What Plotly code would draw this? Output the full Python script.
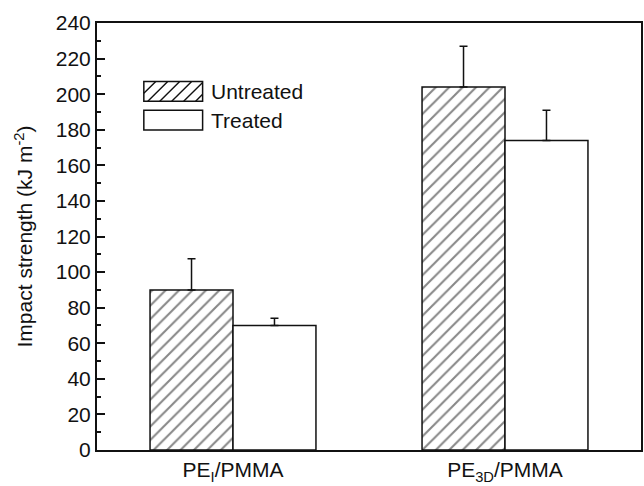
import plotly.graph_objects as go

categories = ["PE<sub>I</sub>/PMMA", "PE<sub>3D</sub>/PMMA"]
untreated = [90, 204]
untreated_err = [17.5, 23]
treated = [70, 174]
treated_err = [4, 17]
y_ticks = list(range(0, 241, 20))

W, H = 644, 486
L, R, T, B = 97, 1, 23, 32
PW, PH = W - L - R, H - T - B
FS = 21
INK = "#111111"

def px(x):
    return (x - L) / PW

def py(y):
    return (H - B - y) / PH

fig = go.Figure()
fig.add_trace(go.Bar(
    x=categories, y=untreated, name="Untreated", showlegend=False,
    marker=dict(color="white", line=dict(color=INK, width=1.5),
                pattern=dict(shape="/", size=9.5, solidity=0.22, fgcolor=INK, bgcolor="white")),
    error_y=dict(type="data", symmetric=False, array=untreated_err, arrayminus=[0, 0],
                 color=INK, thickness=1.5, width=4),
))
fig.add_trace(go.Bar(
    x=categories, y=treated, name="Treated", showlegend=False,
    marker=dict(color="white", line=dict(color=INK, width=1.5)),
    error_y=dict(type="data", symmetric=False, array=treated_err, arrayminus=[0, 0],
                 color=INK, thickness=1.5, width=4),
))

# custom legend
shapes = []
x0, x1 = 144, 203
for (y0, y1) in [(82, 102), (111, 131)]:
    shapes.append(dict(type="rect", xref="paper", yref="paper",
                       x0=px(x0), x1=px(x1), y0=py(y1), y1=py(y0),
                       line=dict(color=INK, width=1.5), fillcolor="white"))
y0, y1 = 82, 102
h = y1 - y0
path = ""
start = x0 - h
while start < x1:
    ax, ay = start, y1
    bx, by = start + h, y0
    if ax < x0:
        ay = ay - (x0 - ax)
        ax = x0
    if bx > x1:
        by = by + (bx - x1)
        bx = x1
    if bx > ax:
        path += f"M{px(ax)},{py(ay)} L{px(bx)},{py(by)} "
    start += 12
shapes.append(dict(type="path", xref="paper", yref="paper", path=path,
                   line=dict(color=INK, width=1.4)))

annotations = [
    dict(text="Untreated", x=px(209), y=py(92), xref="paper", yref="paper",
         xanchor="left", yanchor="middle", showarrow=False,
         font=dict(size=FS, color=INK)),
    dict(text="Treated", x=px(209), y=py(121), xref="paper", yref="paper",
         xanchor="left", yanchor="middle", showarrow=False,
         font=dict(size=FS, color=INK)),
]

fig.update_layout(
    width=W, height=H,
    margin=dict(l=L, r=R, t=T, b=B),
    plot_bgcolor="white", paper_bgcolor="white",
    barmode="group", bargap=0.39, bargroupgap=0,
    font=dict(family="Liberation Sans, Arial, sans-serif", size=FS, color=INK),
    shapes=shapes, annotations=annotations,
    xaxis=dict(range=[-0.5, 1.5], showline=True, linecolor=INK, linewidth=2,
               mirror=True, ticks="", showgrid=False, tickfont=dict(size=FS)),
    yaxis=dict(range=[0, 240], tickvals=y_ticks, showline=True, linecolor=INK,
               linewidth=2, mirror=True, ticks="inside", ticklen=8, tickwidth=1.5,
               tickcolor=INK, showgrid=False, zeroline=False,
               minor=dict(ticks="inside", ticklen=4, dtick=10, tickcolor=INK, tickwidth=1.5),
               title=dict(text="Impact strength (kJ m<sup>-2</sup>)", standoff=17,
                          font=dict(size=FS)),
               tickfont=dict(size=FS)),
)

fig.write_html("out.html", config={"displayModeBar": False},
               post_script="document.body.style.margin='0';document.body.style.padding='0';")
